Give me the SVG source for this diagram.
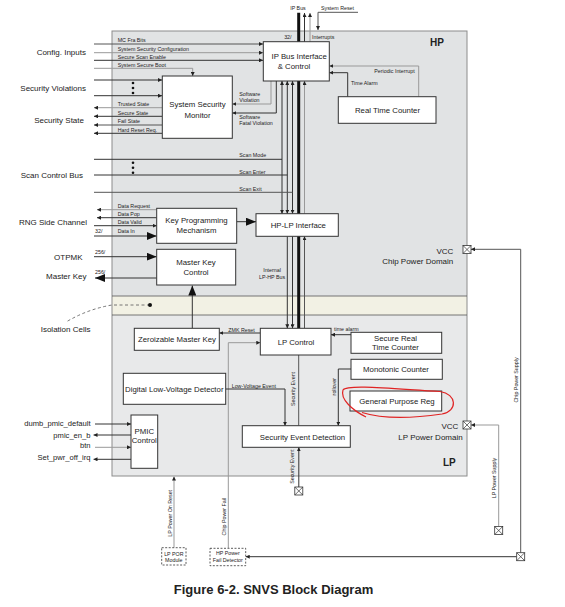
<svg xmlns="http://www.w3.org/2000/svg" width="565" height="607" viewBox="0 0 565 607">
<style>
text{font-family:"Liberation Sans",Arial,sans-serif;fill:#222}
.bx{fill:#fff;stroke:#333;stroke-width:1}
.bt{font-size:7.8px;text-anchor:middle}
.sm{font-size:5.3px}
.lb{font-size:8px}
.ln{fill:none;stroke:#333;stroke-width:1}
.gr{fill:none;stroke:#999;stroke-width:1}
.dk{fill:none;stroke:#555;stroke-width:1}
.ds{fill:#fff;stroke:#333;stroke-width:0.8;stroke-dasharray:2 1.5}
.xb{fill:#fff;stroke:#333;stroke-width:0.8}
</style>
<defs>
<marker id="a" markerUnits="userSpaceOnUse" viewBox="0 0 6 6" refX="6" refY="3" markerWidth="4" markerHeight="4" orient="auto-start-reverse"><path d="M0,0L6,3L0,6z" fill="#222"/></marker>
<marker id="A" markerUnits="userSpaceOnUse" viewBox="0 0 10 8" refX="10" refY="4" markerWidth="10" markerHeight="8" orient="auto"><path d="M0,0L10,4L0,8z" fill="#111"/></marker>
<g id="xbox"><rect x="-4" y="-4" width="8" height="8" class="xb"/><path d="M-4,-4L4,4M4,-4L-4,4" stroke="#333" stroke-width="0.7"/></g>
</defs>

<g id="background">
<rect x="112" y="31" width="355" height="265" fill="#e1e3e4"/>
<rect x="112" y="315" width="355" height="161" fill="#e8e9ea"/>
<rect x="112" y="296" width="355" height="19" fill="#f2f1e4"/>
<rect x="112" y="31" width="355" height="445" fill="none" stroke="#8c8c8c" stroke-width="1"/>
<path d="M112 296H467M112 315H467" stroke="#555" stroke-width="0.8"/>
<text x="430" y="46" style="font-size:10px;font-weight:bold">HP</text>
<text x="443" y="465.5" style="font-size:10px;font-weight:bold">LP</text>
</g>

<g id="connectors">
<!-- config inputs -->
<path class="dk" d="M94 44H263" marker-end="url(#a)"/>
<path class="gr" d="M94 52.7H263" marker-end="url(#a)"/>
<path class="ln" d="M94 60.3H263" marker-end="url(#a)"/>
<path class="gr" d="M94 68.3H192.7V76" marker-end="url(#a)"/>
<!-- security violations -->
<path class="ln" d="M94 80H162" marker-end="url(#a)"/>
<path class="ln" d="M94 95.7H162" marker-end="url(#a)"/>
<!-- security state -->
<path class="gr" d="M162 107.7H94" marker-end="url(#a)"/>
<path class="ln" d="M162 116.3H94" marker-end="url(#a)"/>
<path class="dk" d="M162 125H94" marker-end="url(#a)"/>
<path class="ln" d="M162 133.3H94" marker-end="url(#a)"/>
<!-- software violations -->
<path class="gr" d="M271 81V104H232.3" marker-end="url(#a)"/>
<path class="ln" d="M276.3 81V113H232.3" marker-end="url(#a)"/>
<!-- IP bus -->
<path d="M298.7 12.7V328.3" stroke="#111" stroke-width="3" fill="none"/>
<path class="ln" d="M304.5 42V13" marker-end="url(#a)"/>
<path class="gr" d="M310 42V13" marker-end="url(#a)"/>
<path class="dk" d="M358 12.3H318V30" marker-end="url(#a)"/>
<!-- RTC -->
<path class="gr" d="M418.7 96.7V66H329.3" marker-end="url(#a)"/>
<path class="ln" d="M347.7 96.7V72.7H329.3" marker-end="url(#a)"/>
<!-- internal vertical bus lines -->
<path class="ln" d="M282 81V213.7" marker-start="url(#a)" marker-end="url(#a)"/>
<path class="ln" d="M287.3 81V213.7" marker-start="url(#a)" marker-end="url(#a)"/>
<path class="ln" d="M292.5 81V213.7" marker-start="url(#a)" marker-end="url(#a)"/>
<path class="gr" d="M304.5 213.7V81" marker-end="url(#a)"/>
<path class="ln" d="M287.3 236.3V328.3" marker-end="url(#a)"/>
<path class="ln" d="M292.5 236.3V328.3" marker-end="url(#a)"/>
<path class="dk" d="M304.5 328.3V236.3" marker-end="url(#a)"/>
<!-- scan lines -->
<path class="ln" d="M94 159.3H282"/>
<path class="ln" d="M94 175H287.3"/>
<path class="dk" d="M94 192.3H292.5"/>
<!-- RNG -->
<path class="gr" d="M156.7 209.7H97" marker-end="url(#a)"/>
<path class="ln" d="M156.7 217.7H97" marker-end="url(#a)"/>
<path class="ln" d="M94 225.7H156.7" marker-end="url(#a)"/>
<path class="ln" d="M94 236H156.7" marker-end="url(#A)"/>
<path class="ln" d="M236.7 221.7H256" marker-end="url(#A)"/>
<path class="ln" d="M94 256.7H156.7" marker-end="url(#A)"/>
<path class="ln" d="M156.7 278H95" marker-end="url(#A)"/>
<path class="ln" d="M192.3 328.3V285.5" marker-end="url(#A)"/>
<!-- LP -->
<path class="ln" d="M260.3 333H219.3" marker-end="url(#a)"/>
<path class="gr" d="M228.3 548.3V342.7H260.3" marker-end="url(#a)"/>
<path class="ln" d="M351 334.7H331" marker-end="url(#a)"/>
<path class="ln" d="M351 369H338.3V425.7" marker-end="url(#a)"/>
<path class="dk" d="M298.7 355V425.7"/>
<path class="ln" d="M225.7 389H285V425.7" marker-end="url(#a)"/>
<path class="ln" d="M298.8 487V447.3" marker-end="url(#a)"/>
<path class="gr" d="M174 547.7V476.5" marker-end="url(#a)"/>
<path class="dk" d="M520.7 552.7V249.3H471" marker-end="url(#a)"/>
<path class="ln" d="M516.7 556.7H245.7" marker-end="url(#a)"/>
<path class="gr" d="M498.7 526.3V425H471" marker-end="url(#a)"/>
<!-- PMIC -->
<path class="ln" d="M95 424H131" marker-end="url(#a)"/>
<path class="ln" d="M131 435H93.5" marker-end="url(#a)"/>
<path class="gr" d="M95 447.3H131" marker-end="url(#a)"/>
<path class="ln" d="M131 459.3H93.5" marker-end="url(#a)"/>
<!-- isolation cells pointer -->
<path d="M150 305H112Q88 309 66 322" fill="none" stroke="#555" stroke-width="0.8" stroke-dasharray="3 2.5"/>
<circle cx="150" cy="305" r="2" fill="#111"/>
</g>

<g id="labels">
<text class="lb" x="86" y="55" text-anchor="end">Config. Inputs</text>
<text class="lb" x="86" y="91" text-anchor="end">Security Violations</text>
<text class="lb" x="84" y="123" text-anchor="end">Security State</text>
<text class="lb" x="83" y="178" text-anchor="end">Scan Control Bus</text>
<text class="lb" x="87" y="224.5" text-anchor="end">RNG Side Channel</text>
<text class="lb" x="82.5" y="259.5" text-anchor="end">OTPMK</text>
<text class="lb" x="86.5" y="279" text-anchor="end">Master Key</text>
<text class="lb" x="90.5" y="332" text-anchor="end">Isolation Cells</text>
<text class="lb" x="90.5" y="426" text-anchor="end" style="font-size:7.6px">dumb_pmic_default</text>
<text class="lb" x="90.5" y="437.6" text-anchor="end" style="font-size:7.6px">pmic_en_b</text>
<text class="lb" x="90.5" y="448.4" text-anchor="end" style="font-size:7.6px">btn</text>
<text class="lb" x="90.5" y="460" text-anchor="end" style="font-size:7.6px">Set_pwr_off_irq</text>
<text class="lb" x="453.3" y="253.5" text-anchor="end">VCC</text>
<text class="lb" x="453.3" y="264" text-anchor="end">Chip Power Domain</text>
<text class="lb" x="458.3" y="429" text-anchor="end">VCC</text>
<text class="lb" x="462.7" y="440.3" text-anchor="end">LP Power Domain</text>
<g class="sm">
<text x="117.7" y="41.8">MC Fra Bits</text>
<text x="117.7" y="50.5">System Security Configuration</text>
<text x="117.7" y="59">Secure Scan Enable</text>
<text x="117.7" y="66.8">System Secure Boot</text>
<text x="117.7" y="106">Trusted State</text>
<text x="117.7" y="114.8">Secure State</text>
<text x="117.7" y="123">Fail State</text>
<text x="117.7" y="131.8">Hard Reset Req.</text>
<text x="239.3" y="95.8">Software</text>
<text x="239.3" y="101.5">Violation</text>
<text x="239.3" y="118.5">Software</text>
<text x="239.3" y="124.8">Fatal Violation</text>
<text x="298" y="9.8" text-anchor="middle">IP Bus</text>
<text x="321" y="9.8">System Reset</text>
<text x="291.5" y="39" text-anchor="end">32/</text>
<text x="312" y="39">Interrupts</text>
<text x="374.3" y="72.8">Periodic Interrupt</text>
<text x="351" y="84.5">Time Alarm</text>
<text x="239.3" y="157">Scan Mode</text>
<text x="239.3" y="173.5">Scan Enter</text>
<text x="239.3" y="190.5">Scan Exit</text>
<text x="117.7" y="207.5">Data Request</text>
<text x="117.7" y="215.5">Data Pop</text>
<text x="117.7" y="223.8">Data Valid</text>
<text x="117.7" y="232.5">Data In</text>
<text x="95" y="232.5">32/</text>
<text x="95" y="253.8">256/</text>
<text x="95" y="274">256/</text>
<text x="272" y="271.8" text-anchor="middle">Internal</text>
<text x="272" y="278.5" text-anchor="middle">LP-HP Bus</text>
<text x="228.3" y="331.5">ZMK Reset</text>
<text x="334" y="331">time alarm</text>
<text x="231.7" y="387.5">Low-Voltage Event</text>
<text transform="translate(336.2 386.7) rotate(-90)" text-anchor="middle">rollover</text>
<text transform="translate(295.2 389) rotate(-90)" text-anchor="middle">Security Event</text>
<text transform="translate(294 466.7) rotate(-90)" text-anchor="middle">Security Event</text>
<text transform="translate(172.2 513.3) rotate(-90)" text-anchor="middle">LP Power On Reset</text>
<text transform="translate(226.2 516.7) rotate(-90)" text-anchor="middle">Chip Power Fail</text>
<text transform="translate(517.6 380) rotate(-90)" text-anchor="middle">Chip Power Supply</text>
<text transform="translate(496.2 478) rotate(-90)" text-anchor="middle">LP Power Supply</text>
</g>
<circle cx="133" cy="83" r="1.3" fill="#111"/>
<circle cx="133" cy="88" r="1.3" fill="#111"/>
<circle cx="133" cy="93" r="1.3" fill="#111"/>
<circle cx="133" cy="162.7" r="1.3" fill="#111"/>
<circle cx="133" cy="167.7" r="1.3" fill="#111"/>
<circle cx="133" cy="172.7" r="1.3" fill="#111"/>
</g>

<g id="ip-bus-interface"><rect class="bx" x="263.3" y="41.7" width="66" height="39.3"/><text class="bt" x="299.2" y="58.8">IP Bus Interface</text><text class="bt" x="294" y="68.8">&amp; Control</text></g>
<g id="real-time-counter"><rect class="bx" x="338.3" y="96.7" width="97.7" height="26.6"/><text class="bt" x="387.5" y="112.8">Real Time Counter</text></g>
<g id="system-security-monitor"><rect class="bx" x="162.3" y="76" width="70" height="62.3"/><text class="bt" x="197.5" y="106.8">System Security</text><text class="bt" x="197.5" y="117.8">Monitor</text></g>
<g id="key-programming-mechanism"><rect class="bx" x="156.7" y="208.3" width="80" height="35"/><text class="bt" x="196.5" y="223">Key Programming</text><text class="bt" x="196.5" y="232.8">Mechanism</text></g>
<g id="hp-lp-interface"><rect class="bx" x="256" y="213.7" width="82.3" height="22.6"/><text class="bt" x="298.3" y="227.8">HP-LP Interface</text></g>
<g id="master-key-control"><rect class="bx" x="156.7" y="249.3" width="79" height="35.7"/><text class="bt" x="196" y="264.5">Master Key</text><text class="bt" x="196" y="274.5">Control</text></g>
<g id="zeroizable-master-key"><rect class="bx" x="134.3" y="328.3" width="85" height="22"/><text class="bt" x="177" y="341.8">Zeroizable Master Key</text></g>
<g id="lp-control"><rect class="bx" x="260.3" y="328.3" width="70.7" height="26.7"/><text class="bt" x="296" y="344.5">LP Control</text></g>
<g id="secure-real-time-counter"><rect class="bx" x="351" y="332.3" width="90.7" height="21"/><text class="bt" x="395.5" y="340.5">Secure Real</text><text class="bt" x="395.5" y="350.2">Time Counter</text></g>
<g id="monotonic-counter"><rect class="bx" x="351" y="359.3" width="91.3" height="20"/><text class="bt" x="396" y="371.8">Monotonic Counter</text></g>
<g id="digital-low-voltage-detector"><rect class="bx" x="123.3" y="373.3" width="102.4" height="31"/><text class="bt" x="174.3" y="391.8">Digital Low-Voltage Detector</text></g>
<g id="general-purpose-reg"><rect class="bx" x="350" y="391" width="91.7" height="20"/><text class="bt" x="397" y="403.8">General Purpose Reg</text>
<path d="M366 417C352 410 340 399 343 390C347 384 395 389 440 391.5C457 394 458 411 442 414C415 418 386 420 362 412.5" fill="none" stroke="#e02424" stroke-width="1.2"/></g>
<g id="security-event-detection"><rect class="bx" x="242.3" y="425.7" width="108" height="21.6"/><text class="bt" x="302.5" y="439.5">Security Event Detection</text></g>
<g id="pmic-control"><rect class="bx" x="131" y="415" width="26.7" height="53.3"/><text class="bt" x="144.3" y="433.5">PMIC</text><text class="bt" x="144.3" y="442.8">Control</text></g>
<g id="lp-por-module"><rect class="ds" x="161.7" y="547.7" width="24.3" height="17.3"/><text class="sm" x="173.8" y="556" text-anchor="middle">LP POR</text><text class="sm" x="173.8" y="562" text-anchor="middle">Module</text></g>
<g id="hp-power-fail-detector"><rect class="ds" x="210" y="548.3" width="35.7" height="17.4"/><text class="sm" x="227.8" y="555" text-anchor="middle">HP Power</text><text class="sm" x="227.8" y="561.8" text-anchor="middle">Fail Detector</text></g>
<g id="vcc-chip-pad"><use href="#xbox" x="467" y="249.5"/></g>
<g id="vcc-lp-pad"><use href="#xbox" x="467" y="425"/></g>
<g id="security-event-pad"><use href="#xbox" x="298.8" y="491"/></g>
<g id="lp-supply-pad"><use href="#xbox" x="498.7" y="530.5"/></g>
<g id="chip-supply-pad"><use href="#xbox" x="520.7" y="556.7"/></g>

<text x="273.5" y="594" text-anchor="middle" style="font-size:13px;font-weight:bold">Figure 6-2. SNVS Block Diagram</text>
</svg>
